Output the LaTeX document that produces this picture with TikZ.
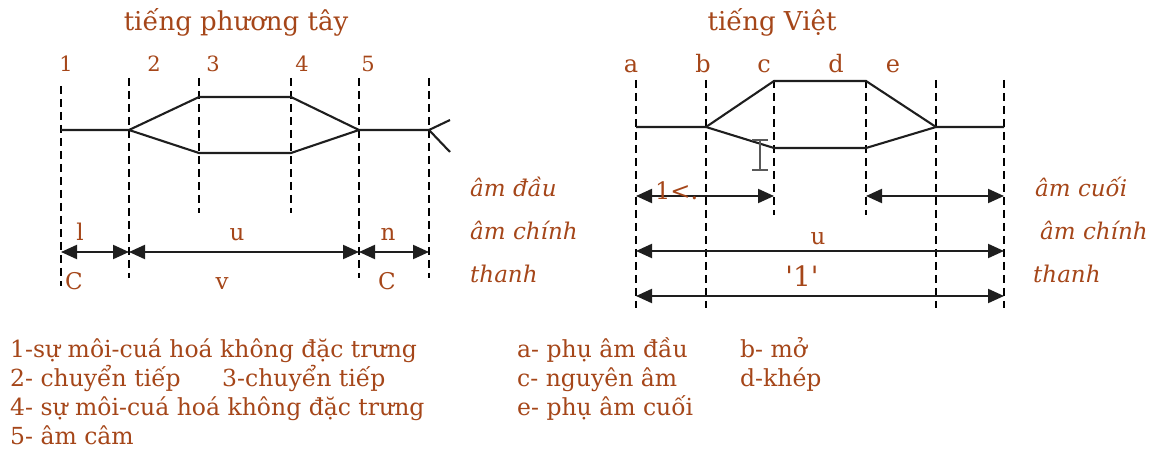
\documentclass[tikz,border=0pt]{standalone}
\usepackage{fontspec}
\setmainfont{DejaVu Serif}
\usetikzlibrary{arrows.meta}
\definecolor{brn}{RGB}{165,70,25}
\definecolor{ln}{RGB}{30,30,30}
\begin{document}
\begin{tikzpicture}[x=1pt,y=-1pt,
  guide/.style={draw=black,line width=1.8pt,dash pattern=on 8pt off 5pt},
  wire/.style={draw=ln,line width=2.1pt},
  dim/.style={draw=ln,line width=2.1pt,{Triangle[length=16pt,width=14pt]}-{Triangle[length=16pt,width=14pt]}},
  lbl/.style={text=brn,inner sep=0pt,anchor=base},
  title/.style={lbl,font=\fontsize{26}{31}\selectfont},
  tick/.style={lbl,font=\fontsize{21}{25}\selectfont},
  letter/.style={lbl,font=\fontsize{24}{28}\selectfont},
  seg/.style={lbl,font=\fontsize{23}{27}\selectfont},
  side/.style={lbl,anchor=base west,font=\fontsize{23}{27}\selectfont\itshape},
  legend/.style={lbl,anchor=base west,font=\fontsize{23.5}{28}\selectfont}]
\useasboundingbox (0,0) rectangle (1159,454);
% titles
\node[title] (t1) at (236,31) {tiếng phương tây};
\node[title] (t2) at (772,31) {tiếng Việt};
% ---------- left diagram ----------
\foreach \n/\x/\t/\b in {1/61/86/286,2/129/78/278,3/199/78/213,4/291/78/213,5/359/78/278,6/429/78/278}{
  \coordinate (Lt\n) at (\x,\t); \coordinate (Lb\n) at (\x,\b);
  \coordinate (Lm\n) at (\x,130); \coordinate (Lu\n) at (\x,97);
  \coordinate (Ld\n) at (\x,153); \coordinate (La\n) at (\x,252);}
\foreach \n in {1,...,6} \draw[guide] (Lt\n) -- (Lb\n);
\draw[wire] (Lm1) -- (Lm2) -- (Lu3) -- (Lu4) -- (Lm5) -- (Lm6);
\draw[wire] (Lm2) -- (Ld3) -- (Ld4) -- (Lm5);
\coordinate (F1) at (450,120); \coordinate (F2) at (450,152);
\draw[wire] (F1) -- (Lm6) -- (F2);
\draw[dim] (La1) -- (La2);
\draw[dim] (La2) -- (La5);
\draw[dim] (La5) -- (La6);
\node[tick] (n1) at (66,72) {1};
\node[tick] (n2) at (154,72) {2};
\node[tick] (n3) at (213,72) {3};
\node[tick] (n4) at (302,72) {4};
\node[tick] (n5) at (368,72) {5};
\node[seg] (sl) at (80,241) {l};
\node[seg] (su) at (237,241) {u};
\node[seg] (sn) at (388,241) {n};
\node[seg] (sC1) at (74,290) {C};
\node[seg] (sv) at (222,290) {v};
\node[seg] (sC2) at (387,290) {C};
\node[side] (ld1) at (470,197) {âm đầu};
\node[side] (ld2) at (470,240) {âm chính};
\node[side] (ld3) at (470,283) {thanh};
% ---------- right diagram ----------
\foreach \n/\x/\b in {1/636/308,2/706/308,3/774/215,4/866/215,5/936/308,6/1004/308}{
  \coordinate (Rt\n) at (\x,80); \coordinate (Rb\n) at (\x,\b);
  \coordinate (Rm\n) at (\x,127); \coordinate (Ru\n) at (\x,81);
  \coordinate (Rd\n) at (\x,148); \coordinate (Ra\n) at (\x,196);
  \coordinate (Rc\n) at (\x,251); \coordinate (Re\n) at (\x,296);}
\foreach \n in {1,...,6} \draw[guide] (Rt\n) -- (Rb\n);
\draw[wire] (Rm1) -- (Rm2) -- (Ru3) -- (Ru4) -- (Rm5) -- (Rm6);
\draw[wire] (Rm2) -- (Rd3) -- (Rd4) -- (Rm5);
\draw[dim] (Ra1) -- (Ra3);
\draw[dim] (Ra4) -- (Ra6);
\draw[dim] (Rc1) -- (Rc6);
\draw[dim] (Re1) -- (Re6);
% I-beam cursor
\coordinate (Ia) at (760,140); \coordinate (Ib) at (760,170);
\draw[gray!70!black,line width=1.8pt] ([xshift=-8pt]Ia) -- ([xshift=8pt]Ia) (Ia) -- (Ib) ([xshift=-8pt]Ib) -- ([xshift=8pt]Ib);
\node[letter] (la) at (631,73) {a};
\node[letter] (lb) at (703,73) {b};
\node[letter] (lc) at (764,73) {c};
\node[letter] (ldd) at (836,73) {d};
\node[letter] (le) at (893,73) {e};
\node[lbl,anchor=base west,font=\fontsize{24}{28}\selectfont] (r1) at (655,200) {1<.};
\node[seg] (ru) at (818,245) {u};
\node[lbl,font=\fontsize{28}{32}\selectfont] (rq) at (802,287) {\textquotesingle1\textquotesingle};
\node[side] (rd1) at (1035,197) {âm cuối};
\node[side] (rd2) at (1040,240) {âm chính};
\node[side] (rd3) at (1033,283) {thanh};
% ---------- legend ----------
\node[legend] (g1) at (10,357) {1-sự môi-cuá hoá không đặc trưng};
\node[legend] (g2) at (10,386) {2- chuyển tiếp};
\node[legend] (g3) at (222,386) {3-chuyển tiếp};
\node[legend] (g4) at (10,415) {4- sự môi-cuá hoá không đặc trưng};
\node[legend] (g5) at (10,444) {5- âm câm};
\node[legend] (ga) at (517,357) {a- phụ âm đầu};
\node[legend] (gb) at (740,357) {b- mở};
\node[legend] (gc) at (517,386) {c- nguyên âm};
\node[legend] (gd) at (740,386) {d-khép};
\node[legend] (ge) at (517,415) {e- phụ âm cuối};
\end{tikzpicture}
\end{document}
